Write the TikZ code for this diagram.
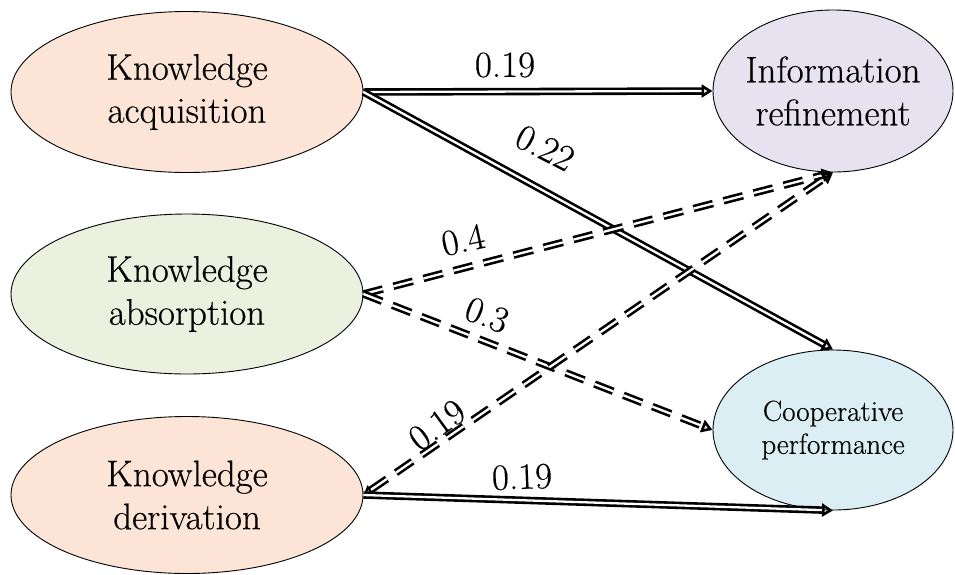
\documentclass[tikz,border=0pt]{standalone}
\usepackage{fontspec}
\setmainfont{Latin Modern Roman}[FakeBold=0.4]
\usetikzlibrary{shapes.geometric,arrows.meta}

\definecolor{peach}{RGB}{252,229,214}
\definecolor{sage}{RGB}{235,241,222}
\definecolor{lavender}{RGB}{230,226,240}
\definecolor{iceblue}{RGB}{218,238,243}

\tikzset{
  latent/.style={ellipse, draw=black, line width=0.9pt, inner sep=-30pt,
    align=center, font=\fontsize{37}{43}\selectfont},
  path2/.style={double, line width=2.6pt, double distance=2.3pt,
    -{Triangle[open,length=11pt,width=13pt]}},
  dashpath/.style={path2, dash pattern=on 20pt off 11pt},
  coef/.style={font=\fontsize{37}{40}\selectfont, inner sep=1pt}
}

\begin{document}
\begin{tikzpicture}[x=1pt,y=-1pt]
\useasboundingbox (0,0) rectangle (955,574);

% construct ellipses
\node[latent, fill=peach, minimum width=352pt, minimum height=161pt] (acq) at (187,92) {Knowledge\\acquisition};
\node[latent, fill=sage, minimum width=352pt, minimum height=160pt] (abs) at (187,294) {Knowledge\\absorption};
\node[latent, fill=peach, minimum width=352pt, minimum height=157pt] (der) at (187,495) {Knowledge\\derivation};
\node[latent, fill=lavender, minimum width=240pt, minimum height=162pt] (info) at (833,91) {Information\\refinement};
\node[latent, fill=iceblue, minimum width=240pt, minimum height=160pt,
      font=\fontsize{29}{33}\selectfont] (coop) at (833,430) {Cooperative\\performance};

% paths between constructs
\draw[path2] (acq.east) -- (info.west);
\draw[path2] (acq.east) -- (coop.north);
\draw[dashpath] (abs.east) -- (info.south);
\draw[dashpath] (abs.east) -- (coop.west);
\draw[dashpath, {Triangle[open,length=9pt,width=11pt]}-{Triangle[open,length=11pt,width=13pt]}] (der.east) -- (info.south);
\draw[path2] (der.east) -- (coop.south);

% path coefficients
\node[coef] (c1) at (505,65) {0.19};
\node[coef, rotate=-27] (c2) at (545,148) {0.22};
\node[coef, rotate=12] (c3) at (463,240) {0.4};
\node[coef, rotate=-21] (c4) at (487,315) {0.3};
\node[coef, rotate=36] (c5) at (437,425) {0.19};
\node[coef, rotate=2] (c6) at (522,477) {0.19};
\end{tikzpicture}
\end{document}
